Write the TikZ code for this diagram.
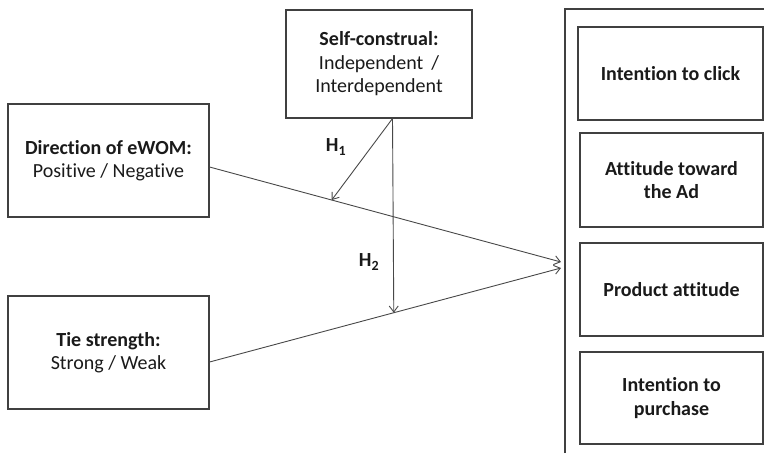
\documentclass[tikz,border=0pt]{standalone}
\usepackage{fontspec}
\setmainfont[Ligatures={NoCommon,NoRare}]{Carlito}
\usetikzlibrary{arrows.meta,calc}
\definecolor{boxline}{HTML}{404040}
\definecolor{txt}{HTML}{1A1A1A}
\definecolor{arr}{HTML}{484848}
\tikzset{
  box/.style={draw=boxline, line width=1.1pt, rectangle, align=center, inner sep=0pt,
    text=txt, font=\fontsize{20}{23.5}\selectfont},
  conn/.style={draw=arr, line width=0.9pt, -{Straight Barb[length=6pt,width=9pt]}},
  hlab/.style={text=txt, font=\fontsize{20}{23.5}\selectfont\bfseries, inner sep=0pt}
}
\begin{document}
\begin{tikzpicture}[x=1pt,y=-1pt]
\useasboundingbox (0,0) rectangle (764,459);
% outer frame (right and bottom out of view)
\draw[boxline, line width=1.1pt] (565,453) -- (565,9) -- (764,9);
% boxes
\node[box, minimum width=186pt, minimum height=108pt] (self) at (379,64)
  {\textbf{Self-construal:}\\Independent \,/\\Interdependent};
\node[box, minimum width=201pt, minimum height=113pt] (dir) at (108.5,160.5)
  {\textbf{Direction of eWOM:}\\Positive / Negative};
\node[box, minimum width=201pt, minimum height=113pt] (tie) at (108.5,352.5)
  {\textbf{Tie strength:}\\Strong / Weak};
\node[box, minimum width=185pt, minimum height=93pt] (o1) at (670.5,73.5) {\textbf{Intention to click}};
\node[box, minimum width=183pt, minimum height=94pt] (o2) at (671.5,180) {\textbf{Attitude toward}\\\textbf{the Ad}};
\node[box, minimum width=183pt, minimum height=93pt] (o3) at (671.5,289.5) {\textbf{Product attitude}};
\node[box, minimum width=183pt, minimum height=92pt] (o4) at (671.5,398) {\textbf{Intention to}\\\textbf{purchase}};
% connector endpoints
\coordinate (d1) at ($(dir.east)+(0,6.5)$);
\coordinate (t1) at ($(tie.east)+(0,9.5)$);
\coordinate (tA) at (561,262);
\coordinate (tB) at (561,268);
\coordinate (s1) at ($(self.south)+(13.5,0)$);
\coordinate (m1) at ($(d1)!0.3476!(tA)$);
\coordinate (m2) at ($(t1)!0.5242!(tB)$);
% connectors
\draw[conn] (d1) -- (tA);
\draw[conn] (t1) -- (tB);
\draw[conn] (s1) -- (m1);
\draw[conn] (s1) -- (m2);
% labels
\node[hlab] (h1) at (336,147) {H\textsubscript{1}};
\node[hlab] (h2) at (369,262) {H\textsubscript{2}};
\end{tikzpicture}
\end{document}
